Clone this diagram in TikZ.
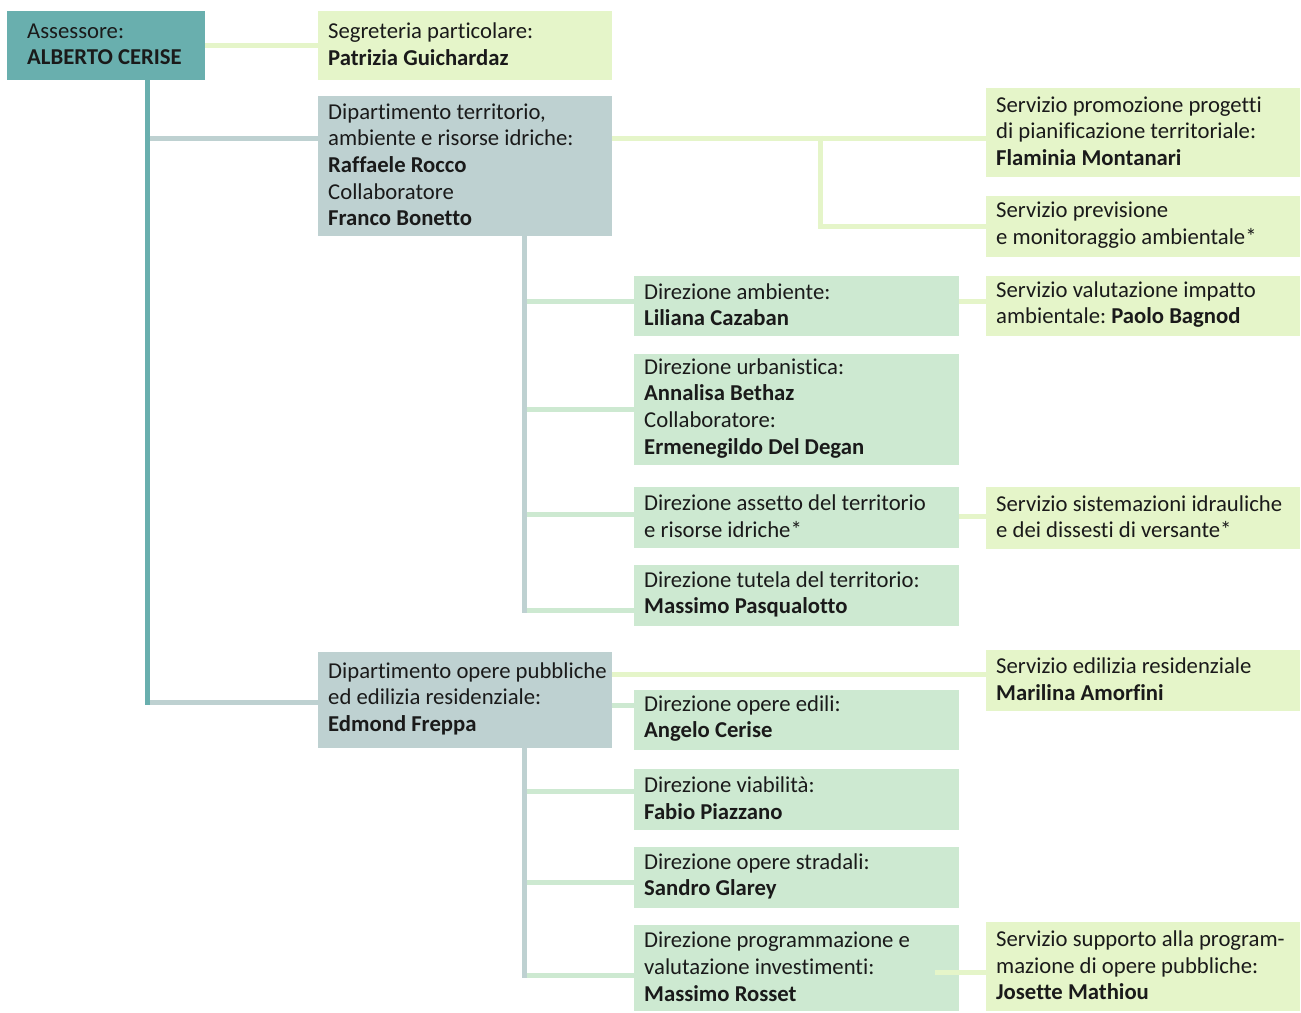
\documentclass[tikz,border=0pt]{standalone}
\usepackage{fontspec}
\setmainfont{Carlito}[Ligatures={NoCommon}]
\frenchspacing
\definecolor{cTeal}{HTML}{69AFAE}
\definecolor{cGrey}{HTML}{BED1D1}
\definecolor{cGreen}{HTML}{CDE9D1}
\definecolor{cPale}{HTML}{E5F5C9}
\definecolor{cText}{HTML}{1A1A1A}
% \orgbox[pad]{name}{style}{x1}{y1}{x2}{y2}{text}: a filled box with its text set flush left
\newcommand{\orgbox}[8][10pt]{%
  \pgfmathsetmacro{\obw}{#6-#4}%
  \pgfmathsetmacro{\obh}{#7-#5}%
  \node[#3, minimum width=\obw pt, minimum height=\obh pt] (#2) at (#4,#5) {};
  \node[lbl] (#2-txt) at ([xshift=#1, yshift=1.5pt]#2.west) {#8};
}
\begin{document}
\begin{tikzpicture}[x=1pt,y=-1pt,
  boxbase/.style={rectangle, anchor=north west, inner sep=0pt, draw=none},
  lbl/.style={anchor=west, inner sep=0pt, align=left, text=cText,
    font=\fontsize{22.7}{26.6}\selectfont},
  tealbox/.style={boxbase, fill=cTeal},
  greybox/.style={boxbase, fill=cGrey},
  greenbox/.style={boxbase, fill=cGreen},
  palebox/.style={boxbase, fill=cPale},
  conn/.style={line width=5pt},
  tealln/.style={conn, draw=cTeal},
  greyln/.style={conn, draw=cGrey},
  greenln/.style={conn, draw=cGreen},
  paleln/.style={conn, draw=cPale}]
\useasboundingbox (0,0) rectangle (1301,1012);

% ---------- junction points of the connectors ----------
\coordinate (t1) at (147,138);
\coordinate (t2) at (147,702);
\coordinate (k) at (820,138);
\coordinate (s1) at (524,610);
\coordinate (b1) at (526.5,301);
\coordinate (b2) at (526.5,409);
\coordinate (b3) at (526.5,514);
\coordinate (b4) at (526.5,610);
\coordinate (c3) at (959,516);
\coordinate (p1) at (612,674);
\coordinate (p2) at (612,705);
\coordinate (s2) at (524,975);
\coordinate (d1) at (526.5,791);
\coordinate (d2) at (526.5,882);
\coordinate (d3) at (526.5,975);
\coordinate (q) at (935,972);

% ---------- boxes ----------
\orgbox[20pt]{ass}{tealbox}{7}{11}{205}{80}{Assessore:\\\textbf{ALBERTO CERISE}}
\orgbox{seg}{palebox}{318}{11}{612}{80}{Segreteria particolare:\\\textbf{Patrizia Guichardaz}}
\orgbox{dep1}{greybox}{318}{96}{612}{236}{Dipartimento territorio,\\ambiente e risorse idriche:\\\textbf{Raffaele Rocco}\\Collaboratore\\\textbf{Franco Bonetto}}
\orgbox{dep2}{greybox}{318}{652}{612}{748}{Dipartimento opere pubbliche\\ed edilizia residenziale:\\\textbf{Edmond Freppa}}

\orgbox{spp}{palebox}{986}{88}{1300}{177}{Servizio promozione progetti\\di pianificazione territoriale:\\\textbf{Flaminia Montanari}}
\orgbox{sprev}{palebox}{986}{196}{1300}{257}{Servizio previsione\\e monitoraggio ambientale*}
\orgbox{sval}{palebox}{986}{276}{1300}{336}{Servizio valutazione impatto\\ambientale: \textbf{Paolo Bagnod}}
\orgbox{ssis}{palebox}{986}{487}{1300}{549}{Servizio sistemazioni idrauliche\\e dei dissesti di versante*}
\orgbox{sedil}{palebox}{986}{650}{1300}{711}{Servizio edilizia residenziale\\\textbf{Marilina Amorfini}}
\orgbox{ssup}{palebox}{986}{922}{1300}{1011}{Servizio supporto alla program-\\mazione di opere pubbliche:\\\textbf{Josette Mathiou}}

\orgbox{amb}{greenbox}{634}{276}{959}{336}{Direzione ambiente:\\\textbf{Liliana Cazaban}}
\orgbox{urb}{greenbox}{634}{354}{959}{465}{Direzione urbanistica:\\\textbf{Annalisa Bethaz}\\Collaboratore:\\\textbf{Ermenegildo Del Degan}}
\orgbox{asst}{greenbox}{634}{487}{959}{548}{Direzione assetto del territorio\\e risorse idriche*}
\orgbox{tut}{greenbox}{634}{565}{959}{626}{Direzione tutela del territorio:\\\textbf{Massimo Pasqualotto}}
\orgbox{oped}{greenbox}{634}{690}{959}{750}{Direzione opere edili:\\\textbf{Angelo Cerise}}
\orgbox{viab}{greenbox}{634}{769}{959}{830}{Direzione viabilità:\\\textbf{Fabio Piazzano}}
\orgbox{strad}{greenbox}{634}{847}{959}{908}{Direzione opere stradali:\\\textbf{Sandro Glarey}}
\orgbox{prog}{greenbox}{634}{925}{959}{1011}{Direzione programmazione e\\valutazione investimenti:\\\textbf{Massimo Rosset}}

% ---------- connectors ----------
% main trunk from the Assessore
\draw[tealln] (ass.south -| t1) -- ([yshift=-2.5pt]t2);
\draw[greyln] ([xshift=2.5pt]t1) -- (t1 -| dep1.west);
\draw[greyln] ([xshift=2.5pt]t2) -- (t2 -| dep2.west);
\draw[paleln] (ass.east) -- (seg.west);

% territory department
\draw[paleln] (k -| dep1.east) -- (k -| spp.west);
\draw[paleln, line join=miter] ([yshift=2.5pt]k) |- (sprev.west);
\draw[greyln] (dep1.south -| s1) -- ([yshift=-2.5pt]s1);
\draw[greenln] (b1) -- (b1 -| amb.west);
\draw[greenln] (b2) -- (b2 -| urb.west);
\draw[greenln] (b3) -- (b3 -| asst.west);
\draw[greenln] (b4) -- (b4 -| tut.west);
\draw[paleln] (b1 -| amb.east) -- (b1 -| sval.west);
\draw[paleln] (c3) -- (c3 -| ssis.west);

% public works department
\draw[paleln] (p1) -- (p1 -| sedil.west);
\draw[greenln] (p2) -- (p2 -| oped.west);
\draw[greyln] (dep2.south -| s2) -- ([yshift=-2.5pt]s2);
\draw[greenln] (d1) -- (d1 -| viab.west);
\draw[greenln] (d2) -- (d2 -| strad.west);
\draw[greenln] (d3) -- (d3 -| prog.west);
\draw[paleln] (q) -- (q -| ssup.west);
\end{tikzpicture}
\end{document}
